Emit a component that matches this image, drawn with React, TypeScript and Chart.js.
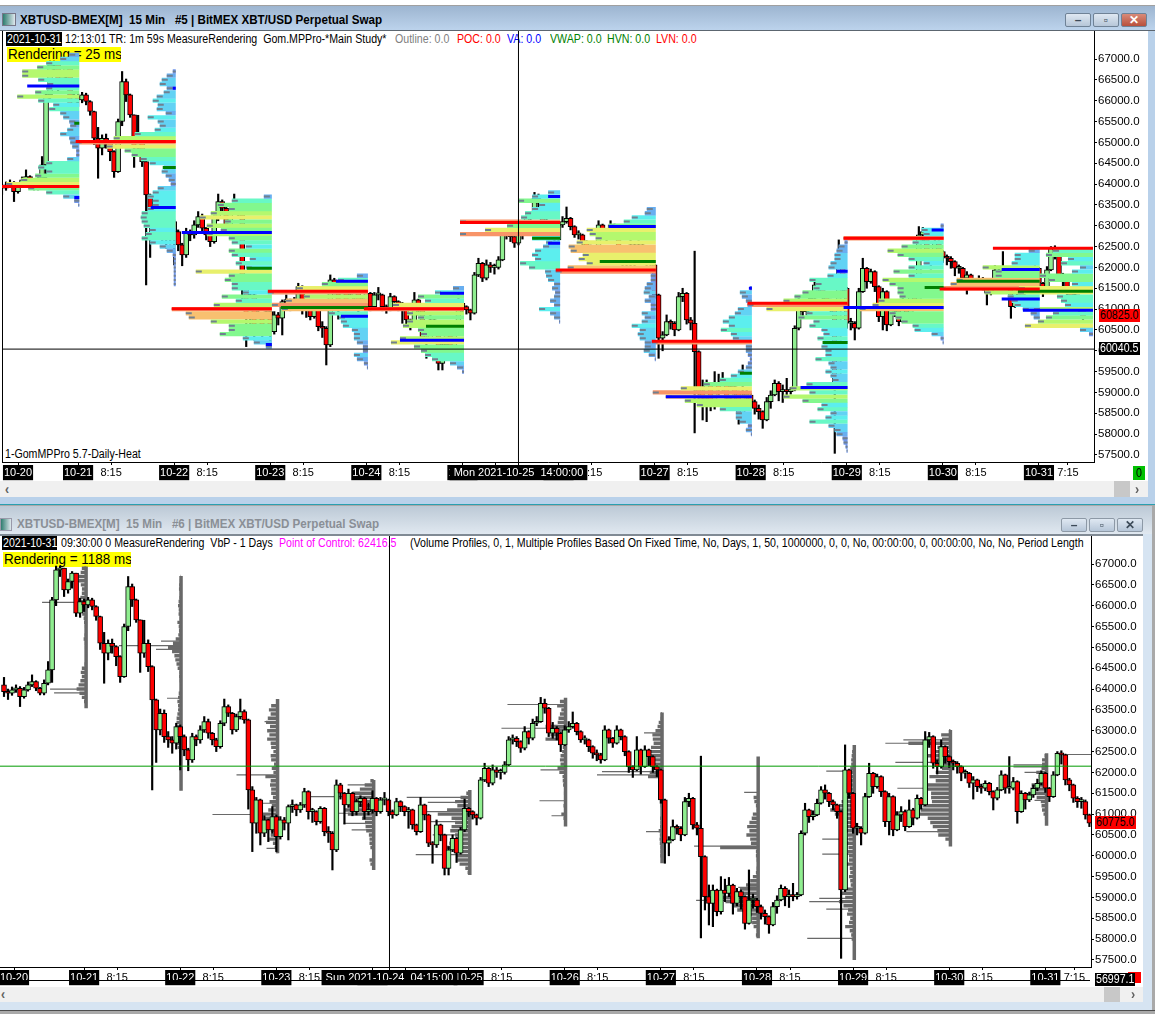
import React, { useEffect, useRef } from "react";
import { Chart, registerables } from "chart.js";
Chart.register(...registerables);

// ---------- hourly candles: hours counted from 2021-10-21 00:00 ----------
const firstHour = -20;
const firstOpen = 64100;
const closes = [
  63940,63900,63980,64020,63820,63980,64100,64180,64020,63900,64140,64460,66140,66860,66900,66380,66580,66780,65820,66100,
  66020,66140,65980,65740,65100,64860,65100,65020,64780,64300,65500,66460,66140,65660,64860,65100,64540,63740,63020,63420,62860,62780,62700,63100,
  62860,62540,62300,62860,62780,63020,63220,62940,62780,62620,63180,63580,63420,63020,63340,63460,63260,61580,60780,61340,60540,60860,60620,60940,
  60460,60860,60780,61180,61220,61100,61220,61540,61060,61060,60820,61140,60580,60540,60140,61700,61500,61220,61500,61060,61300,61380,61060,61100,
  61380,61060,61340,61340,61060,60980,61300,61180,61060,61100,60740,60580,61220,60980,60300,60260,60740,60500,59700,60140,60420,60060,60620,61140,
  61060,60980,60900,61820,62100,61740,62060,62000,62000,62180,62780,62820,62740,62580,62980,62820,63180,63220,63660,63540,62940,63060,62940,62660,
  63020,63100,63180,62980,62780,62780,62620,62460,62420,62300,63020,62820,62700,63020,62860,62500,62140,62060,62540,62140,62540,62380,62140,62060,
  61340,60300,60380,60700,60660,60500,61300,61380,60740,60660,59980,59020,58860,59180,58660,59180,59100,59300,58860,59140,59020,58380,58940,58940,
  58780,58620,58540,58340,58780,58940,59220,59020,59060,59020,59060,60540,61100,60940,60980,61260,61580,61500,61300,61220,61060,59180,62060,61500,
  60660,60660,60540,61420,61980,61660,61900,61540,60820,61420,60620,60980,61060,60700,61100,60900,61380,61220,62780,62860,62220,62140,62620,62380,
  62260,62220,62140,61980,61980,61740,61820,61660,61620,61740,61540,61380,61580,61940,61620,61620,61780,61060,61500,61340,61460,61620,61740,61980,
  61620,61420,61940,62460,62420,61820,61700,61380,61300,61300,60980,60780,
];
const highs = [
  64280,64000,64050,64100,64060,64040,64170,64340,64200,64040,64220,64660,66200,66950,66950,66900,66640,66820,66780,66180,
  66160,66200,66180,66000,65750,65360,65180,65200,65040,64800,65560,66700,66520,66160,65660,65650,65180,64560,63760,63520,63500,62980,62860,63180,
  63140,62900,62580,62940,62900,63120,63340,63280,62960,62820,63240,63760,63620,63440,63400,63760,63500,63280,61660,61400,61360,60960,60880,61180,
  60980,60940,60920,61220,61340,61240,61280,61620,61560,61140,61080,61180,61160,60700,60580,61820,61740,61520,61600,61520,61360,61440,61400,61260,
  61560,61400,61400,61520,61360,61100,61380,61320,61200,61160,61120,60760,61400,61240,61000,60340,60860,60760,60520,60220,60500,60440,60680,61360,
  61160,61080,61000,61880,62220,62120,62180,62120,62080,62260,62860,62900,62860,62760,63100,63000,63280,63340,63800,63760,63560,63200,63100,62960,
  63120,63220,63450,63200,63000,62880,62800,62640,62540,62460,63120,63040,62840,63120,63040,62880,62520,62160,62860,62560,62640,62560,62400,62160,
  62080,61360,60460,60860,60740,60700,61400,61500,61400,60800,62390,60000,59300,59300,59200,59500,59440,59480,59320,59220,59180,59040,59660,59080,
  58980,58820,58700,58560,58880,59040,59300,59260,59180,59340,59120,60600,61260,61120,61080,61360,61660,61700,61520,61340,61240,61080,62660,62080,
  61520,60780,60700,61500,62220,62000,61960,61920,61560,61500,61440,61060,61180,61100,61340,61140,61460,61400,62980,62960,62880,62300,62780,62640,
  62400,62300,62260,62160,62060,62000,61900,61840,61720,61800,61760,61560,61640,62040,61960,62380,61880,61800,61560,61520,61520,61700,61840,62040,
  62000,61640,62020,62500,62520,62440,61860,61720,61420,61400,61340,61000,
];
const lows = [
  63820,63750,63850,63920,63580,63780,63950,64060,63960,63860,63860,64100,64160,66000,66700,66220,66300,66420,65740,65720,
  65860,65950,65900,65650,64950,64140,64700,64860,64560,64160,64280,65400,65980,65600,64400,64760,64420,61580,62240,62900,62720,62600,62460,62560,
  62060,62400,62040,62240,62640,62700,62960,62820,62660,62500,62580,63120,63340,62920,62980,63280,63180,61120,60100,60540,60260,60460,60340,60540,
  60100,60400,60620,60380,61040,60960,61040,61160,60880,60800,60740,60780,60480,60320,59660,60100,61360,60760,61160,60960,60980,61180,60880,60980,
  61020,60960,61020,61220,60960,60900,60960,61060,60960,60660,60640,60500,60560,60860,60220,59820,60200,60360,59540,59540,60100,59840,60040,60580,
  60940,60880,60740,60880,61780,61660,61700,61880,61840,61960,62160,62680,62620,62480,62540,62680,62780,63120,63200,63420,62860,62820,62780,62500,
  62640,62960,63060,62900,62720,62680,62500,62340,62280,62220,62280,62700,62600,62680,62780,62400,62000,61880,62040,61960,62120,62160,62000,61900,
  61260,59820,60000,60360,60520,60360,60480,61180,60640,60500,58030,58700,58340,58300,58560,58600,58900,59020,58600,58800,58720,58240,58360,58740,
  58640,58480,58360,58140,58320,58620,58920,58800,58760,58920,58960,59040,60500,60800,60860,60960,61240,61360,61180,61100,60900,57540,59140,61380,
  60540,60500,60260,60520,61400,61500,61620,61420,60700,60500,60480,60600,60820,60600,60680,60740,60880,61120,61200,62600,62100,61960,62100,62220,
  62120,62060,61980,61800,61860,61640,61360,61540,61500,61560,61460,61100,61340,61560,61500,61500,61580,60780,61040,61120,61300,61400,61560,61700,
  61520,61300,61400,61920,62200,61700,61560,61280,61160,61140,60880,60700,
];

// ---------- volume profiles, one row per session, levels 100 apart ----------
const profileStep = 100;
const profileTops = [67100,66700,63700,61800,61500,63800,63400,61500,62600,63000,62400,62400];
const profileEnds = [0.3,24.4,48.4,72.4,96.4,120.4,144.3,168.3,192.2,216.2,240.2,253.5];
const profileVolumes = [
  [10,19,33,42,57,57,41,32,33,44,62,41,26,30,19,16,10,9,12,19,10,9,7,3,3,12,33,41,33,44,58,73,51,33,16,5,1],
  [3,9,14,16,9,12,19,23,18,19,10,28,18,16,21,41,62,100,69,51,44,35,26,12,14,10,7,5,18,23,28,23,23,28,34,35,34,32,26,30,34,26,16,9,3,2,2,2,2,2,2,2],
  [8,40,54,43,61,72,47,65,51,65,43,40,26,43,40,22,36,26,76,43,47,40,40,29,50,36,58,100,86,83,61,43,43,52,29,18,6],
  [11,30,46,71,100,64,82,96,86,39,29,27,25,16,14,14,11,5,5,14,11,4,1],
  [11,29,46,39,71,100,57,46,57,61,46,43,64,73,50,43,39,32,14,7,2],
  [12,28,42,21,28,35,39,100,53,75,100,28,14,17,25,28,25,40,31,15,14,12,6,8,5,6,10,6,21,10,6,1],
  [9,11,24,32,47,69,66,60,79,87,85,73,77,69,88,100,5,5,9,11,12,7,11,5,5,14,11,14,24,16,18,16,11,11,12,7,1],
  [2,12,10,6,4,14,17,23,29,23,31,21,19,100,6,6,4,2,4,6,14,21,32,48,71,99,86,67,55,32,16,16,12,4,6,1],
  [3,9,11,13,13,17,19,11,20,38,32,34,45,53,64,100,81,41,49,34,38,26,24,30,24,26,22,22,32,19,17,22,17,15,41,57,38,64,45,26,30,17,22,38,19,13,11,5,4,2,1],
  [3,22,20,100,31,42,56,46,35,20,35,50,35,61,54,46,46,44,65,71,84,54,48,42,31,29,12,3,1],
  [11,25,25,28,57,44,44,83,89,100,55,32,28,25,17,9,6],
  [40,47,25,32,13,21,53,44,21,74,75,36,32,28,59,40,47,55,68,13,4],
];

// ---------- heat colours: upper volume bound and colour ----------
const heatBounds = [6,12,20,30,42,55,68,82,94,101];
const heatColors = ["#7196ea","#68aef0","#62d2f4","#5ceeee","#68f8c6","#82f88e","#b4f86e","#e8f06c","#f8c070","#f89468"];

// ---------- profile marks of the top chart: [session, price, volume] ----------
const pocMarks = [[0,63940,100],[1,65020,100],[2,61010,100],[3,61430,100],[4,61010,100],[5,63080,100],[6,61940,100],[7,60230,100],[8,61140,100],[9,62700,100],[10,61480,100],[11,62460,100]];
const vaMarks = [[0,66350,52],[0,63680,5],[1,66300,3],[1,63440,25],[2,62840,90],[2,60150,6],[3,61670,32],[3,60830,27],[4,61380,24],[4,60250,64],[5,63700,12],[5,62580,12],[6,62980,47],[7,61500,3],[7,58900,86],[8,61910,11],[8,59120,47],[9,62900,12],[9,61040,100],[10,61950,38],[10,61240,38],[11,60970,70]];
const hvnMarks = [[0,65460,5],[1,64400,13],[2,61980,25],[3,61040,87],[4,60590,38],[5,62700,28],[6,62140,56],[7,59460,12],[8,60200,25],[9,61520,19],[10,61670,83],[11,61430,75]];

// ---------- volume-by-price of the lower chart ----------
const vbpEnds = [0.5,24.2,48.3,72.3,96.3,120.2,144.3,168.3,192.3,216.3,240.3,252];
const vbpScale = [0.13,0.13,0.16,0.3,0.32,0.2,0.14,0.38,0.24,0.42,0.18,0.1];
const vbpHighs = [66940,66710,63760,61820,61580,63790,63440,62380,62660,63020,62460,62430];
const vbpLows = [63540,61560,60060,59660,59540,60700,59820,58020,57500,60220,60720,60700];
const vbpSpikes = [
  [[66080,44],[64000,36],[63910,32],[66580,13]],
  [[65040,62],[64950,25],[65150,20],[63780,14]],
  [[60990,65],[61940,41],[61260,20],[60180,11],[63220,13]],
  [[61420,66],[60620,22],[60780,30],[61700,26],[61020,38]],
  [[61400,63],[61060,44],[61280,42],[60030,54],[60820,40],[60500,37]],
  [[63630,58],[63060,64],[62060,25],[61320,26],[60960,14]],
  [[61940,65],[62020,60],[60580,16],[62950,18]],
  [[60230,64],[58930,62],[61520,14],[59240,20]],
  [[58020,47],[58900,45],[58720,28],[58980,35],[62030,28],[60400,32],[60040,32]],
  [[62700,65],[62780,47],[62240,55],[61620,53],[60580,44]],
  [[62180,33],[62130,33],[61330,12],[62000,22]],
  [[62430,28]],
];

// ---------- axis text ----------
const priceMin = 57332;
const priceMax = 67672;
const priceTicks = [57500,58000,58500,59000,59500,60000,60500,61000,61500,62000,62500,63000,63500,64000,64500,65000,65500,66000,66500,67000];
const dayLabels = ["10-21","10-22","10-23","10-24","10-25","10-26","10-27","10-28","10-29","10-30","10-31"];
const dayHours = [0,24,48,72,96,120,144,168,192,216,240];
const firstDayLabel = "10-20";
const topCrossLabel = "\u00a0Mon 2021-10-25  14:00:00\u00a0";
const bottomCrossLabel = "\u00a0Sun 2021-10-24  04:15:00\u00a0";
const crossTop = { hour: 110, price: 60040.5 };
const crossBottom = { hour: 76.25 };
const pocLevelBottom = 62150;

const FONT = '"Liberation Sans", Arial, sans-serif';
const gap = { x: NaN, y: NaN };

function candleDatasets(orderBase: number) {
  const wicks: any[] = [];
  const bodies: any[] = [];
  const colors: string[] = [];
  closes.forEach((c, i) => {
    const o = i === 0 ? firstOpen : closes[i - 1];
    const x = firstHour + i;
    wicks.push({ x, y: [lows[i], highs[i]] });
    bodies.push({ x, y: [o, c] });
    colors.push(c >= o ? "#90ee90" : "#ff0000");
  });
  return [
    { type: "bar", data: wicks, backgroundColor: "#000", barThickness: 1.5, grouped: false, order: orderBase + 1 },
    { type: "bar", data: bodies, backgroundColor: colors, borderColor: "#000", borderWidth: 1, borderSkipped: false, barThickness: 5, minBarLength: 2, grouped: false, order: orderBase },
  ];
}

function lineSet(data: any[], color: string, width: number, order: number) {
  return { type: "line", data, borderColor: color, backgroundColor: color, borderWidth: width, pointRadius: 0, pointHoverRadius: 0, tension: 0, fill: false, spanGaps: false, borderCapStyle: "butt", order };
}

function markSet(marks: number[][], color: string, order: number) {
  const data: any[] = [];
  marks.forEach(([d, p, v]) => {
    data.push({ x: profileEnds[d] - v / 4, y: p }, { x: profileEnds[d], y: p }, gap);
  });
  return lineSet(data, color, 3, order);
}

function topProfileDatasets() {
  const buckets: any[][] = heatColors.map(() => []);
  const tips: any[] = [];
  profileVolumes.forEach((row, d) => {
    row.forEach((v, i) => {
      const p = profileTops[d] - i * profileStep;
      const x1 = profileEnds[d];
      const x0 = x1 - v / 4;
      const b = heatBounds.findIndex((u) => v < u);
      buckets[b].push({ x: x0, y: p }, { x: x1, y: p }, gap);
      tips.push({ x: x0, y: p }, { x: x0 + Math.min(v, 6) / 4, y: p }, gap);
    });
  });
  return [
    ...buckets.map((data, b) => lineSet(data, heatColors[b], 4.3, 50)),
    lineSet(tips, "#708090", 2, 40),
  ];
}

function bottomProfileDatasets() {
  const rows: any[] = [];
  const cols: any[] = [];
  const spikes: any[] = [];
  vbpEnds.forEach((end, d) => {
    if (d < 11) {
      cols.push({ x: end, y: vbpHighs[d] }, { x: end, y: vbpLows[d] }, gap);
      profileVolumes[d].forEach((v, i) => {
        const p = profileTops[d] - i * profileStep;
        if (p > vbpHighs[d] || p < vbpLows[d]) return;
        rows.push({ x: end - (v * vbpScale[d]) / 4, y: p }, { x: end, y: p }, gap);
      });
    }
    vbpSpikes[d].forEach(([p, w]) => {
      spikes.push({ x: end - w / 4, y: p }, { x: end, y: p }, gap);
    });
  });
  return [
    lineSet(cols, "#696969", 3.5, 92),
    lineSet(rows, "#696969", 3.4, 91),
    lineSet(spikes, "#696969", 1.2, 90),
  ];
}

function buildTicks(crossLabel: string, crossHour: number, firstTickHour: number) {
  const values: number[] = [firstTickHour];
  const labels: string[] = [firstDayLabel];
  const boxed: boolean[] = [true];
  dayHours.forEach((h, i) => {
    const last = i === dayHours.length - 1;
    values.push(h, h + (last ? 7.25 : 8.25));
    labels.push(dayLabels[i], last ? "7:15" : "8:15");
    boxed.push(true, false);
  });
  values.push(crossHour);
  labels.push(crossLabel);
  boxed.push(true);
  return { values, labels, boxed };
}

// the axis labels must not push the plot area away from the fixed frame
const dropMargins = (s: any) => {
  s.paddingTop = s.paddingBottom = s.paddingLeft = s.paddingRight = 0;
  if (s._margins) {
    s._margins.top = s._margins.bottom = 0;
    s._margins.left = s._margins.right = 0;
  }
};

function makeChart(canvas: HTMLCanvasElement, datasets: any[], xMin: number, xMax: number, axisWidth: number, t: ReturnType<typeof buildTicks>) {
  return new Chart(canvas, {
    type: "bar",
    data: { datasets },
    options: {
      responsive: false,
      animation: false,
      devicePixelRatio: 1,
      events: [],
      layout: { padding: 0, autoPadding: false },
      plugins: { legend: { display: false }, tooltip: { enabled: false } },
      scales: {
        x: {
          type: "linear",
          min: xMin,
          max: xMax,
          offset: false,
          afterFit: (s: any) => { s.height = 19; dropMargins(s); },
          afterBuildTicks: (s: any) => { s.ticks = t.values.map((value) => ({ value })); },
          grid: { display: true, offset: false, drawOnChartArea: false, drawTicks: true, tickLength: 3, color: "#000" },
          border: { display: true, color: "#000", width: 1 },
          ticks: {
            autoSkip: false,
            maxRotation: 0,
            minRotation: 0,
            padding: 1,
            font: { family: FONT, size: 11 },
            callback: (_v: any, i: number) => t.labels[i],
            color: (c: any) => (t.boxed[c.index] ? "#fff" : "#000"),
            showLabelBackdrop: (c: any) => t.boxed[c.index],
            backdropColor: "#000",
            backdropPadding: { x: 1, y: 1 },
          },
        },
        y: {
          type: "linear",
          position: "right",
          min: priceMin,
          max: priceMax,
          afterFit: (s: any) => { s.width = axisWidth; dropMargins(s); },
          afterBuildTicks: (s: any) => { s.ticks = priceTicks.map((value) => ({ value })); },
          grid: { display: true, drawOnChartArea: false, drawTicks: true, tickLength: 3, color: "#000" },
          border: { display: true, color: "#000", width: 1 },
          ticks: {
            padding: 1,
            color: "#000",
            font: { family: FONT, size: 11.5 },
            callback: (v: any) => Number(v).toFixed(1),
          },
        },
      },
    } as any,
  } as any);
}

const abs = (left: number, top: number, width: number, height: number, extra: React.CSSProperties = {}): React.CSSProperties => ({
  position: "absolute", left, top, width, height, ...extra,
});

function Txt({ x, y, color = "#000", bg, children, size = 12, w = 700, h = 14, weight, sx = 0.885, pad = 0 }: any) {
  return (
    <div style={{ position: "absolute", left: x, top: y, width: w, height: h, background: bg, overflow: "hidden" }}>
      <span style={{ position: "absolute", left: pad, top: 0, lineHeight: h + "px", color, fontSize: size, fontWeight: weight, fontFamily: FONT, whiteSpace: "pre", transform: `scaleX(${sx})`, transformOrigin: "left center" }}>
        {children}
      </span>
    </div>
  );
}

function Btn({ x, y, label, red, dim }: any) {
  return (
    <div style={{ ...abs(x, y, 24, 12), border: "1px solid " + (dim ? "#8d99a6" : "#6f8296"), borderRadius: 2, background: red ? "linear-gradient(#d98a78,#b8503c)" : "linear-gradient(#dfe8f2,#b6c6d8)", color: red ? "#fff" : "#3c4a58", fontSize: 12, lineHeight: "12px", textAlign: "center", fontFamily: FONT, fontWeight: 700 }}>
      {label}
    </div>
  );
}

export default function App() {
  const topRef = useRef<HTMLCanvasElement>(null);
  const bottomRef = useRef<HTMLCanvasElement>(null);

  useEffect(() => {
    const topTicks = buildTicks(topCrossLabel, crossTop.hour, -15);
    const top = makeChart(topRef.current!, [
      ...candleDatasets(100),
      ...topProfileDatasets(),
      markSet(pocMarks, "#ff0000", 30),
      markSet(vaMarks, "#0000ff", 31),
      markSet(hvnMarks, "#008000", 32),
      lineSet([{ x: -19, y: crossTop.price }, { x: 253.75, y: crossTop.price }], "#000", 1, 2),
      lineSet([{ x: crossTop.hour, y: priceMin }, { x: crossTop.hour, y: priceMax }], "#000", 1, 1),
    ], -19, 253.75, 54, topTicks);

    const bottomTicks = buildTicks(bottomCrossLabel, crossBottom.hour, -17.5);
    const bottom = makeChart(bottomRef.current!, [
      ...bottomProfileDatasets(),
      ...candleDatasets(50),
      lineSet([{ x: -21, y: pocLevelBottom }, { x: 251.4, y: pocLevelBottom }], "#009a00", 1, 2),
      lineSet([{ x: crossBottom.hour, y: priceMin }, { x: crossBottom.hour, y: priceMax }], "#000", 1, 1),
    ], -21, 251.4, 52, bottomTicks);

    return () => { top.destroy(); bottom.destroy(); };
  }, []);

  return (
    <div style={{ position: "absolute", left: 0, top: 0, width: 1155, height: 1014, overflow: "hidden", background: "#fff", fontFamily: FONT }}>
      {/* upper window */}
      <div style={abs(0, 5, 1155, 1, { background: "#a0a0a0" })} />
      <div style={abs(0, 6, 1155, 24, { background: "linear-gradient(#9db5d0,#bcd3ec)" })} />
      <div style={abs(0, 30, 1155, 1, { background: "#5c6670" })} />
      <div style={abs(1148, 31, 7, 474, { background: "#b9d1ea" })} />
      <div style={abs(0, 31, 1148, 466, { background: "#fff" })} />
      <div style={abs(2, 13, 12, 11, { background: "linear-gradient(90deg,#2e7d6f,#dfe8ee)", border: "1px solid #778" })} />
      <Txt x={20} y={13} size={12} h={15} weight={700} w={420} sx={0.968}>{"XBTUSD-BMEX[M]  15 Min   #5 | BitMEX XBT/USD Perpetual Swap"}</Txt>
      <Btn x={1065} y={13} label="–" />
      <Btn x={1093} y={13} label="▫" />
      <Btn x={1121} y={13} label="✕" red />
      <Txt x={6} y={32} color="#fff" bg="#000" w={56} pad={1}>2021-10-31</Txt>
      <Txt x={65} y={32}>{"12:13:01 TR: 1m 59s MeasureRendering  Gom.MPPro-*Main Study*"}</Txt>
      <Txt x={395} y={32} color="#808080">Outline: 0.0</Txt>
      <Txt x={457} y={32} color="#ff0000">POC: 0.0</Txt>
      <Txt x={507} y={32} color="#0000ff">VA: 0.0</Txt>
      <Txt x={550} y={32} color="#008000">VWAP: 0.0</Txt>
      <Txt x={607} y={32} color="#008000">HVN: 0.0</Txt>
      <Txt x={656} y={32} color="#ff0000">LVN: 0.0</Txt>
      <Txt x={7} y={47} size={14} h={15} bg="#ffff00" w={114} sx={0.96} pad={1}>Rendering = 25 ms</Txt>
      <Txt x={5} y={447}>1-GomMPPro 5.7-Daily-Heat</Txt>
      <div style={abs(2, 31, 1, 431, { background: "#000" })} />
      <canvas ref={topRef} width={1146} height={450} style={{ position: "absolute", left: 2, top: 31, width: 1146, height: 450 }} />
      <Txt x={1099} y={309} bg="#ff0000" w={41} h={13} pad={1}>60825.0</Txt>
      <Txt x={1099} y={342} bg="#000" color="#fff" w={41} h={13} pad={1}>60040.5</Txt>
      <Txt x={1133} y={466} bg="#00c000" w={12} h={14} pad={3}>0</Txt>
      <div style={abs(0, 481, 1148, 16, { background: "#f0f0f0" })} />
      <Txt x={5} y={481} color="#606060" size={14} h={16} weight={700} w={12}>‹</Txt>
      <div style={abs(1114, 481, 16, 16, { background: "#c8c8c8" })} />
      <Txt x={1135} y={481} color="#606060" size={14} h={16} weight={700} w={12}>›</Txt>
      <div style={abs(0, 497, 1155, 7, { background: "#b9d1ea" })} />
      <div style={abs(0, 504, 1155, 1, { background: "#2a9fb0" })} />

      {/* lower window */}
      <div style={abs(0, 505, 1155, 509, { background: "#a9a9a9" })} />
      <div style={abs(0, 506, 1152, 28, { background: "linear-gradient(#bcc9d6,#e0e8f0)" })} />
      <div style={abs(0, 534, 1143, 2, { background: "#808a94" })} />
      <div style={abs(1143, 534, 9, 468, { background: "#d6e4f2" })} />
      <div style={abs(0, 536, 1143, 451, { background: "#fff" })} />
      <div style={abs(0, 518, 10, 11, { background: "linear-gradient(90deg,#2e7d6f,#dfe8ee)", border: "1px solid #99a" })} />
      <Txt x={17} y={517} size={12} h={15} weight={700} color="#8a8f96" w={420} sx={0.968}>{"XBTUSD-BMEX[M]  15 Min   #6 | BitMEX XBT/USD Perpetual Swap"}</Txt>
      <Btn x={1061} y={518} label="–" dim />
      <Btn x={1089} y={518} label="▫" dim />
      <Btn x={1117} y={518} label="✕" dim />
      <Txt x={2} y={536} color="#fff" bg="#000" w={55} pad={1}>2021-10-31</Txt>
      <Txt x={61} y={536}>{"09:30:00 0 MeasureRendering  VbP - 1 Days"}</Txt>
      <Txt x={279} y={536} color="#ff00ff">Point of Control: 62416.5</Txt>
      <Txt x={410} y={536} w={681}>{"(Volume Profiles, 0, 1, Multiple Profiles Based On Fixed Time, No, Days, 1, 50, 1000000, 0, 0, No, 00:00:00, 0, 00:00:00, No, No, Period Length"}</Txt>
      <Txt x={3} y={552} size={14} h={15} bg="#ffff00" w={128} sx={0.96} pad={1}>Rendering = 1188 ms</Txt>
      <canvas ref={bottomRef} width={1143} height={450} style={{ position: "absolute", left: 0, top: 536, width: 1143, height: 450 }} />
      <div style={abs(0, 980, 1090, 1, { background: "#000" })} />
      <Txt x={1095} y={816} bg="#ff0000" w={41} h={13} pad={1}>60775.0</Txt>
      <div style={abs(1128, 972, 13, 11, { background: "#ff0000" })} />
      <Txt x={1095} y={973} bg="#000" color="#fff" w={40} h={13} pad={1}>56997.1</Txt>
      <div style={abs(0, 987, 1143, 15, { background: "#f0f0f0" })} />
      <Txt x={1} y={987} color="#606060" size={14} h={15} weight={700} w={12}>‹</Txt>
      <div style={abs(1104, 987, 16, 15, { background: "#c8c8c8" })} />
      <Txt x={1131} y={987} color="#606060" size={14} h={15} weight={700} w={12}>›</Txt>
      <div style={abs(0, 1002, 1152, 8, { background: "#d6e4f2" })} />
      <div style={abs(0, 1010, 1155, 1, { background: "#4d4d4d" })} />
    </div>
  );
}
